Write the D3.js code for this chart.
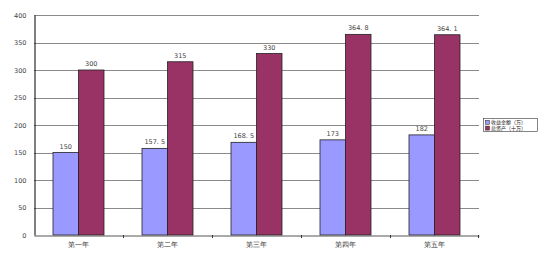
<!DOCTYPE html>
<html><head><meta charset="utf-8">
<script src="https://cdn.jsdelivr.net/npm/d3@7"></script>
<style>body{margin:0;background:#fff}svg{display:block}</style>
</head><body>
<svg id="c" width="557" height="256"></svg>
<script>
const categories = ["第一年","第二年","第三年","第四年","第五年"];
const seriesNames = ["收益金额（万）","总资产（十万）"];
const income = [150,157.5,168.5,173,182];
const assets = [300,315,330,364.8,364.1];
const yTicks = [0,50,100,150,200,250,300,350,400];
const colors = ["#9999FF","#993366"];

const svg = d3.select("#c");
const m = {l:34, t:15, r:479, b:235};
const x = d3.scaleBand().domain(categories).range([m.l, m.r]).paddingInner(0).paddingOuter(0);
const y = d3.scaleLinear().domain([0,400]).range([m.b, m.t]);
const bw = 25.5;
const font = "'DejaVu Sans', sans-serif";

// gridlines
svg.append("g").selectAll("line").data(yTicks.filter(d=>d>0)).join("line")
  .attr("x1", m.l).attr("x2", m.r)
  .attr("y1", d=>Math.round(y(d))+0.5).attr("y2", d=>Math.round(y(d))+0.5)
  .attr("stroke", "#8a8a8a").attr("stroke-width", 1);

// y axis
const ya = svg.append("g").attr("transform", `translate(${m.l+0.5},0)`)
  .call(d3.axisLeft(y).tickValues(yTicks).tickSize(0).tickPadding(8));
ya.select(".domain").attr("stroke","#000").attr("stroke-width",1);
ya.selectAll("text").attr("font-family",font).attr("font-size",6.5).attr("fill","#444");

// bars
const data = [income, assets];
data.forEach((vals, si) => {
  const g = svg.append("g");
  g.selectAll("rect").data(vals).join("rect")
    .attr("x", (d,i)=>x(categories[i]) + x.bandwidth()/2 - bw + si*bw)
    .attr("y", d=>y(d))
    .attr("width", bw).attr("height", d=>y(0)-y(d))
    .attr("fill", colors[si]).attr("stroke","#222").attr("stroke-width",0.8);
  g.selectAll("text").data(vals).join("text")
    .attr("x", (d,i)=>x(categories[i]) + x.bandwidth()/2 - bw/2 + si*bw)
    .attr("y", d=>y(d)-4)
    .attr("text-anchor","middle").attr("font-family",font).attr("font-size",6.5).attr("fill","#444")
    .text(d=>String(d).replace(".", ". "));
});

// x axis
const xa = svg.append("g").attr("transform", `translate(0,${m.b+0.5})`)
  .call(d3.axisBottom(x).tickSize(0).tickPadding(7));
xa.select(".domain").attr("stroke","#555").attr("stroke-width",1);
xa.selectAll("text").attr("font-family",font).attr("font-size",7).attr("fill","#333");
svg.append("g").selectAll("line").data(categories.slice(1).concat(["end"])).join("line")
  .attr("x1",(d,i)=> i<4 ? Math.round(x(d))+0.5 : m.r-0.5)
  .attr("x2",(d,i)=> i<4 ? Math.round(x(d))+0.5 : m.r-0.5)
  .attr("y1", m.b).attr("y2", m.b+3).attr("stroke","#333");

// legend
const lg = svg.append("g").attr("transform","translate(483.5,118.5)");
lg.append("rect").attr("width",54).attr("height",13).attr("fill","#fff").attr("stroke","#333").attr("stroke-width",0.6);
seriesNames.forEach((n,i)=>{
  lg.append("rect").attr("x",2).attr("y",1.8+i*5.8).attr("width",4).attr("height",4)
    .attr("fill",colors[i]).attr("stroke","#222").attr("stroke-width",0.5);
  lg.append("text").attr("x",7.5).attr("y",5.9+i*5.8).attr("font-family","'Noto Sans CJK SC', sans-serif")
    .attr("font-size",5).attr("fill","#222").text(n);
});
</script>
</body></html>
